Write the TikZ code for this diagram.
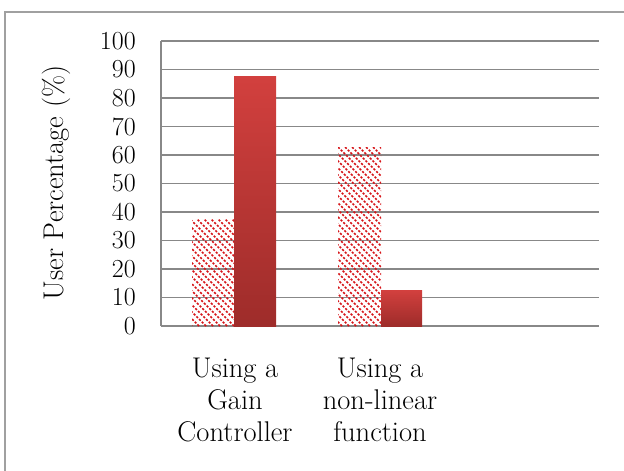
\documentclass[tikz,border=0pt]{standalone}
\usepackage{fontspec}
\usetikzlibrary{positioning}
\definecolor{barred}{RGB}{210,64,62}
\definecolor{bardark}{RGB}{158,44,42}
\definecolor{hatchred}{RGB}{214,20,24}
\definecolor{gridgray}{RGB}{136,136,136}

\begin{document}
\begin{tikzpicture}[x=1pt,y=-1pt,
  gridline/.style={draw=gridgray,line width=1.8pt},
  ticklabel/.style={anchor=east,inner sep=0pt,font=\fontsize{26}{28}\selectfont},
  catlabel/.style={anchor=north,align=center,inner sep=0pt,font=\fontsize{28.5}{32}\selectfont},
  hatchline/.style={draw=hatchred,line width=1.6pt,dash pattern=on 2.2pt off 1.6pt},
  solidbar/.style={draw=none,top color=barred,bottom color=bardark}
]
\useasboundingbox (0,0) rectangle (624,471);

% Frame
\draw[gridgray!80,line width=1.8pt] (5,490) |- (640,12);

% Grid and axis
\foreach \v in {0,10,...,100}
  \draw[gridline] (161,{326-2.85*\v}) -- (599,{326-2.85*\v});
\draw[gridline] (161,41) -- (161,326);

% Tick labels
\foreach \v in {0,10,...,100}
  \node[ticklabel] (tick\v) at (136,{326-2.85*\v}) {\v};

% Axis title
\node[rotate=90,inner sep=0pt,font=\fontsize{28.5}{30}\selectfont] (ytitle) at (56,183) {User Percentage (\%)};

% Hatched bars
\begin{scope}
  \clip (192,{326-2.85*37.5}) rectangle (234,326);
  \foreach \s in {150,157,...,550}
    \draw[hatchline] (\s,326) -- ++(-300,-300);
\end{scope}
\begin{scope}
  \clip (338,{326-2.85*62.5}) rectangle (381,326);
  \foreach \s in {300,307,...,700}
    \draw[hatchline] (\s,326) -- ++(-300,-300);
\end{scope}

% Solid bars
\shade[solidbar] (234,{326-2.85*87.5}) rectangle (276,326);
\shade[solidbar] (381,{326-2.85*12.5}) rectangle (422,326);

% Category labels
\node[catlabel] (cat1) at (235,358) {Using a\\Gain\\Controller};
\node[catlabel] (cat2) at (380,358) {Using a\\non-linear\\function};
\end{tikzpicture}
\end{document}
